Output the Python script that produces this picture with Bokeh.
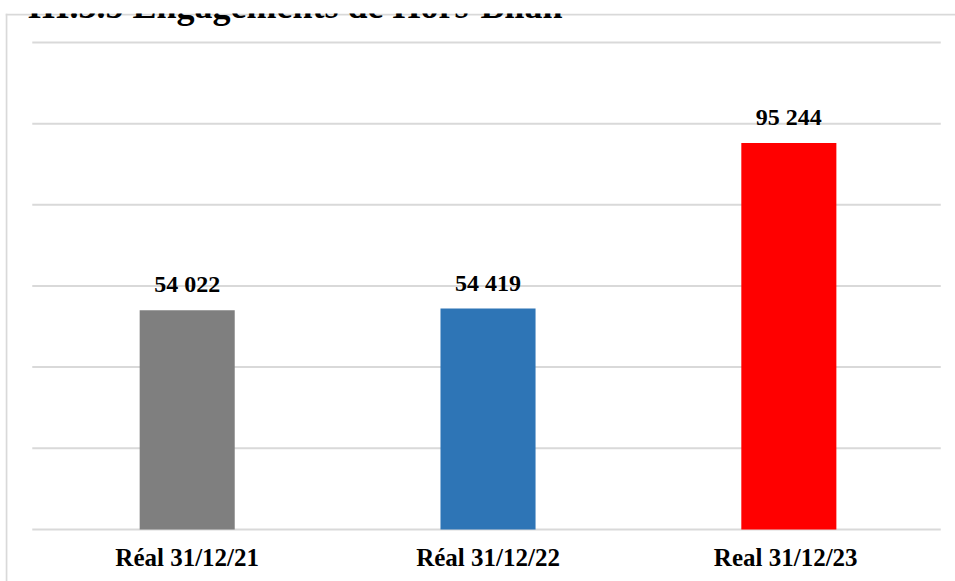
from bokeh.plotting import figure
from bokeh.models import Range1d, Label, Span
from bokeh.embed import file_html
from bokeh.resources import INLINE
from bokeh.core.properties import value

categories = ["Réal 31/12/21", "Réal 31/12/22", "Real  31/12/23"]
values = [54022, 54419, 95244]
colors = ["#7F7F7F", "#2E75B6", "#FF0000"]
y_ticks = [0, 20000, 40000, 60000, 80000, 100000, 120000]
title_text = "III.3.5 Engagements de Hors-Bilan"

xs = list(range(len(categories)))
labels = [f"{v:,}".replace(",", " ") for v in values]

p = figure(width=955, height=581,
           x_range=Range1d(-0.604, 2.554), y_range=Range1d(-12840, 127160),
           min_border_left=5, min_border_top=13, min_border_right=0, min_border_bottom=0,
           output_backend="svg", toolbar_location=None)
p.xaxis.visible = False
p.yaxis.visible = False
p.grid.visible = False
p.outline_line_color = None
p.background_fill_color = "white"
p.border_fill_color = "white"

# chart box edges (left and top)
p.add_layout(Span(location=-0.601, dimension="height", line_color="#D9D9D9", line_width=2))
p.add_layout(Span(location=126900, dimension="width", line_color="#D9D9D9", line_width=2))

# gridlines
p.segment(x0=[-0.515] * len(y_ticks), x1=[2.505] * len(y_ticks), y0=y_ticks, y1=y_ticks,
          line_color="#D9D9D9", line_width=2)

p.vbar(x=xs, top=values, bottom=0, width=0.316, fill_color=colors, line_color=None)

p.text(x=xs, y=values, text=labels, text_align="center", text_baseline="alphabetic",
       y_offset=-26, text_font=value("Liberation Serif"), text_font_style="bold",
       text_font_size="24px", text_color="#000000")

p.text(x=xs, y=[0] * len(xs), text=categories, text_align="center", text_baseline="alphabetic",
       y_offset=28, text_font=value("Liberation Serif"), text_font_style="bold",
       text_font_size="25px", text_color="#000000")

p.add_layout(Label(x=22, y=576, x_units="screen", y_units="screen", text=title_text,
                   text_font="Liberation Serif", text_font_style="bold",
                   text_font_size="36px", text_color="#000000", text_baseline="alphabetic"))

open("out.html", "w").write(file_html(p, INLINE))
